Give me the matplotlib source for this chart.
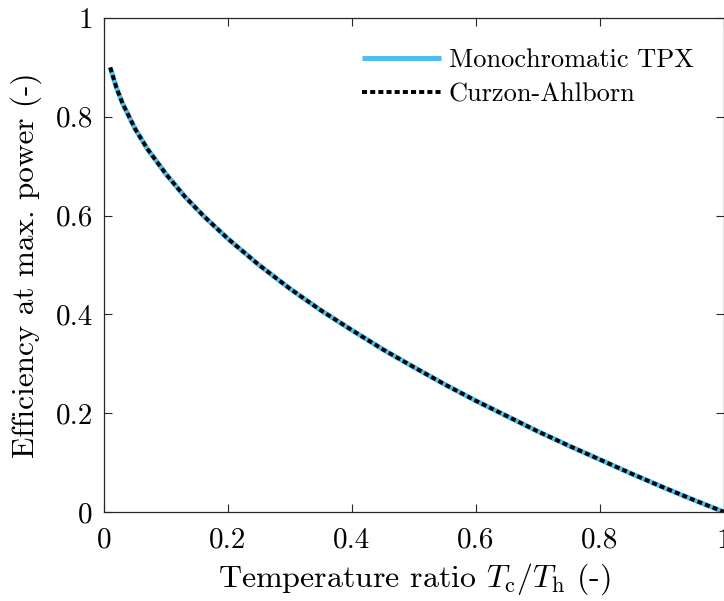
import matplotlib
matplotlib.use("Agg")
import matplotlib.pyplot as plt

plt.rcParams["font.family"] = "cmr10"
plt.rcParams["mathtext.fontset"] = "cm"
plt.rcParams["axes.formatter.use_mathtext"] = True

# efficiency at maximum power vs. temperature ratio Tc/Th
ratio = [0.01, 0.02, 0.03, 0.05, 0.07, 0.10, 0.13, 0.16, 0.20, 0.25, 0.30,
         0.35, 0.40, 0.45, 0.50, 0.55, 0.60, 0.65, 0.70, 0.75, 0.80, 0.85,
         0.90, 0.95, 1.00]
eta_tpx = [0.900, 0.859, 0.827, 0.776, 0.735, 0.684, 0.639, 0.600, 0.553,
           0.500, 0.452, 0.408, 0.368, 0.329, 0.293, 0.258, 0.225, 0.194,
           0.163, 0.134, 0.106, 0.078, 0.051, 0.025, 0.000]
eta_ca = [0.900, 0.859, 0.827, 0.776, 0.735, 0.684, 0.639, 0.600, 0.553,
          0.500, 0.452, 0.408, 0.368, 0.329, 0.293, 0.258, 0.225, 0.194,
          0.163, 0.134, 0.106, 0.078, 0.051, 0.025, 0.000]

xticks = [0, 0.2, 0.4, 0.6, 0.8, 1]
yticks = [0, 0.2, 0.4, 0.6, 0.8, 1]

fig = plt.figure(figsize=(7.24, 6.01), dpi=100)
ax = fig.add_axes([104 / 724, 89 / 601, 620 / 724, 494 / 601])

ax.plot(ratio, eta_tpx, color="#4DBEEE", lw=3.6, label="Monochromatic TPX",
        solid_capstyle="butt")
ax.plot(ratio, eta_ca, color="black", lw=2.8, linestyle=(0, (1.3, 0.8)),
        label="Curzon-Ahlborn", dash_capstyle="butt")

ax.set_xlim(0, 1)
ax.set_ylim(0, 1)
ax.set_xticks(xticks)
ax.set_yticks(yticks)
ax.set_xticklabels([f"{t:g}" for t in xticks])
ax.set_yticklabels([f"{t:g}" for t in yticks])
ax.tick_params(direction="in", length=6, width=0.8, labelsize=21,
               top=True, right=True, color="#262626")
ax.tick_params(axis="x", pad=11)
ax.tick_params(axis="y", pad=8)
for s in ax.spines.values():
    s.set_linewidth(0.9)
    s.set_color("#262626")

ax.set_xlabel(r"Temperature ratio $T_\mathrm{c}/T_\mathrm{h}$ (-)", fontsize=23,
              labelpad=6)
ax.set_ylabel("Efficiency at max. power (-)", fontsize=22.5, labelpad=10)

ax.legend(loc="upper right", frameon=False, fontsize=19, handlelength=3.0,
          handletextpad=0.3, labelspacing=0.4, borderaxespad=0.75)

fig.savefig("out.png", dpi=100)
